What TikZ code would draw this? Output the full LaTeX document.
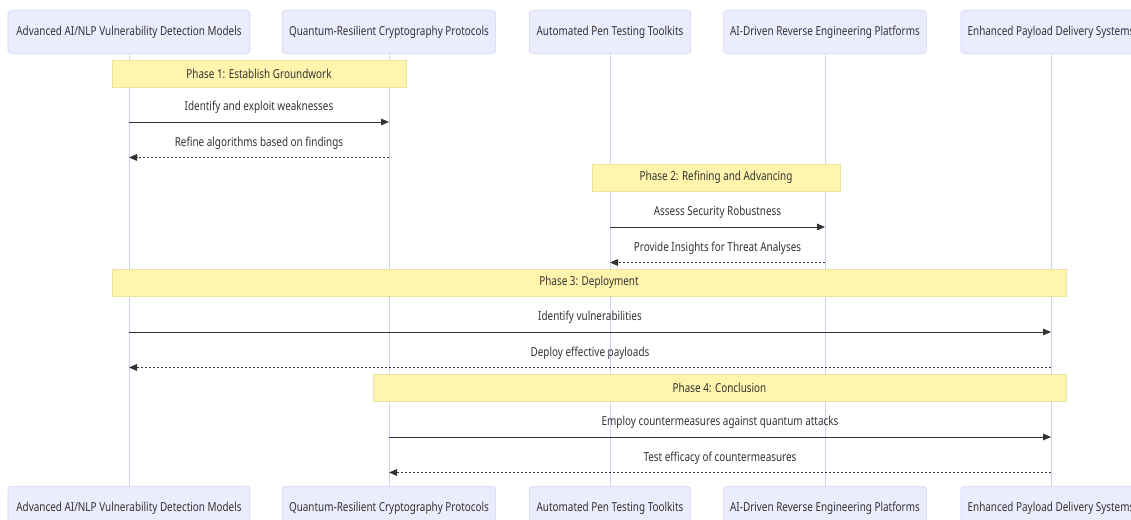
\documentclass[tikz,border=0pt]{standalone}
\usepackage{fontspec}
\setmainfont{Noto Sans}[FakeStretch=0.8]
\usetikzlibrary{arrows.meta, positioning}
\definecolor{actorfill}{HTML}{ECECFF}
\definecolor{actorline}{HTML}{D3D0F7}
\definecolor{notefill}{HTML}{FFF5AD}
\definecolor{noteline}{HTML}{EDE3A0}
\definecolor{msgcolor}{HTML}{333333}

\begin{document}
\begin{tikzpicture}[
    x=0.75pt, y=-0.75pt,
    every node/.style={font=\fontsize{9.3}{11}\selectfont, text=msgcolor},
    actor/.style={rectangle, draw=actorline, fill=actorfill, rounded corners=2pt, minimum height=32pt, inner sep=0pt},
    note/.style={rectangle, draw=noteline, fill=notefill, minimum height=20pt, inner sep=0pt},
    life/.style={actorline, line width=0.75pt},
    msg/.style={-{Triangle[length=6pt, width=5pt]}, msgcolor, line width=0.7pt},
    reply/.style={msg, dash pattern=on 1.5pt off 1.5pt},
    msglabel/.style={yshift=11pt},
]
\useasboundingbox (0,0) rectangle (1131,520);

% === Participants (top) ===
\node[actor, minimum width=181.5pt] (aiT) at (129,32) {Advanced AI/NLP Vulnerability Detection Models};
\node[actor, minimum width=160pt] (qrT) at (389,32) {Quantum-Resilient Cryptography Protocols};
\node[actor, minimum width=121pt] (ptT) at (610,32) {Automated Pen Testing Toolkits};
\node[actor, minimum width=152pt] (reT) at (825,32) {AI-Driven Reverse Engineering Platforms};
\node[actor, minimum width=135pt] (pdT) at (1051,32) {Enhanced Payload Delivery Systems};

% === Participants (bottom) ===
\node[actor, minimum width=181.5pt] (aiB) at (129,508) {Advanced AI/NLP Vulnerability Detection Models};
\node[actor, minimum width=160pt] (qrB) at (389,508) {Quantum-Resilient Cryptography Protocols};
\node[actor, minimum width=121pt] (ptB) at (610,508) {Automated Pen Testing Toolkits};
\node[actor, minimum width=152pt] (reB) at (825,508) {AI-Driven Reverse Engineering Platforms};
\node[actor, minimum width=135pt] (pdB) at (1051,508) {Enhanced Payload Delivery Systems};

% Lifelines
\foreach \p in {ai,qr,pt,re,pd}
    \draw[life] (\p T.south) -- (\p B.north);

% === Phase notes ===
\node[note, minimum width=220.5pt] (phase1) at (259,73.5) {Phase 1: Establish Groundwork};
\node[note, minimum width=186pt] (phase2) at (716,177.5) {Phase 2: Refining and Advancing};
\node[note, minimum width=715.5pt] (phase3) at (589,282.5) {Phase 3: Deployment};
\node[note, minimum width=519.75pt] (phase4) at (719.5,387.5) {Phase 4: Conclusion};

% Message rows
\coordinate (m1) at (0,122);
\coordinate (m2) at (0,157.5);
\coordinate (m3) at (0,227);
\coordinate (m4) at (0,262.5);
\coordinate (m5) at (0,332);
\coordinate (m6) at (0,367.5);
\coordinate (m7) at (0,437);
\coordinate (m8) at (0,472.5);

% === Messages ===
\draw[msg] (aiT |- m1) -- node[msglabel] {Identify and exploit weaknesses} (qrT |- m1);
\draw[reply] (qrT |- m2) -- node[msglabel] {Refine algorithms based on findings} (aiT |- m2);

\draw[msg] (ptT |- m3) -- node[msglabel] {Assess Security Robustness} (reT |- m3);
\draw[reply] (reT |- m4) -- node[msglabel] {Provide Insights for Threat Analyses} (ptT |- m4);

\draw[msg] (aiT |- m5) -- node[msglabel] {Identify vulnerabilities} (pdT |- m5);
\draw[reply] (pdT |- m6) -- node[msglabel] {Deploy effective payloads} (aiT |- m6);

\draw[msg] (qrT |- m7) -- node[msglabel] {Employ countermeasures against quantum attacks} (pdT |- m7);
\draw[reply] (pdT |- m8) -- node[msglabel] {Test efficacy of countermeasures} (qrT |- m8);

\end{tikzpicture}
\end{document}
